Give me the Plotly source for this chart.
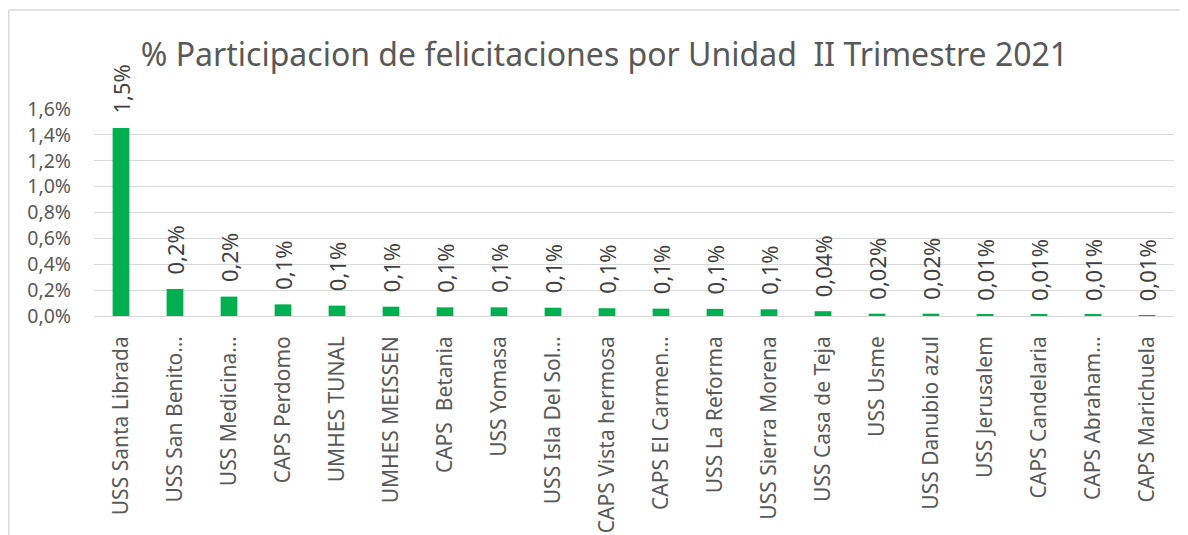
import plotly.graph_objects as go

categories = [
    "USS Santa Librada", "USS San Benito…", "USS Medicina…", "CAPS Perdomo",
    "UMHES TUNAL", "UMHES MEISSEN", "CAPS  Betania", "USS Yomasa",
    "USS Isla Del Sol…", "CAPS Vista hermosa", "CAPS El Carmen…", "USS La Reforma",
    "USS Sierra Morena", "USS Casa de Teja", "USS Usme", "USS Danubio azul",
    "USS Jerusalem", "CAPS Candelaria", "CAPS Abraham…", "CAPS Marichuela",
]
values = [
    0.01453, 0.00209, 0.00150, 0.00090, 0.00080, 0.00072, 0.00067, 0.00067,
    0.00064, 0.00060, 0.00057, 0.00055, 0.00052, 0.00037, 0.00018, 0.00018,
    0.00009, 0.00008, 0.00008, 0.00006,
]
value_labels = [
    "1,5%", "0,2%", "0,2%", "0,1%", "0,1%", "0,1%", "0,1%", "0,1%", "0,1%",
    "0,1%", "0,1%", "0,1%", "0,1%", "0,04%", "0,02%", "0,02%", "0,01%",
    "0,01%", "0,01%", "0,01%",
]
y_ticks = [0, 0.002, 0.004, 0.006, 0.008, 0.010, 0.012, 0.014, 0.016]

title_text = "% Participacion de felicitaciones por Unidad  II Trimestre 2021"

FONT = "Noto Sans"
GRAY = "#595959"

fig = go.Figure()
fig.add_trace(go.Bar(
    x=categories, y=values, marker=dict(color="#00B050", line=dict(width=0)),
    width=0.31, hoverinfo="x+y",
))

annotations = []
for c, v, t in zip(categories, values, value_labels):
    annotations.append(dict(
        x=c, y=v, xref="x", yref="y", text=t, showarrow=False,
        textangle=-90, xanchor="center", yanchor="bottom", yshift=12,
        font=dict(family=FONT, size=22, color="#404040"),
    ))

fig.update_layout(
    width=1180, height=527,
    margin=dict(l=86, r=14, t=101, b=219, autoexpand=False),
    paper_bgcolor="white", plot_bgcolor="white",
    separators=",.",
    showlegend=False,
    bargap=0.69,
    title=dict(
        text=title_text, x=0.5055, xref="container", xanchor="center",
        y=0.911, yref="container", yanchor="middle",
        font=dict(family=FONT, size=32, color=GRAY),
    ),
    xaxis=dict(
        automargin=False,
        showgrid=False, zeroline=False, showline=False, ticks="",
        tickangle=-90, tickfont=dict(family=FONT, size=21, color=GRAY),
        ticklabelstandoff=15,
    ),
    yaxis=dict(
        automargin=False,
        range=[0, 0.016], tickvals=y_ticks, tickformat=".1%",
        showgrid=True, gridcolor="#D9D9D9", gridwidth=1.3,
        zeroline=True, zerolinecolor="#D9D9D9", zerolinewidth=1.3,
        showline=False, ticks="",
        tickfont=dict(family=FONT, size=19.5, color=GRAY),
        ticklabelstandoff=22,
    ),
    annotations=annotations,
    shapes=[
        dict(type="line", xref="paper", yref="paper", x0=-0.0789, x1=1.02,
             y0=1.478, y1=1.478, line=dict(color="#D9D9D9", width=1.5)),
        dict(type="line", xref="paper", yref="paper", x0=-0.0789, x1=-0.0789,
             y0=1.478, y1=-1.2, line=dict(color="#D9D9D9", width=1.5)),
    ],
)

fig.write_html("out.html")
